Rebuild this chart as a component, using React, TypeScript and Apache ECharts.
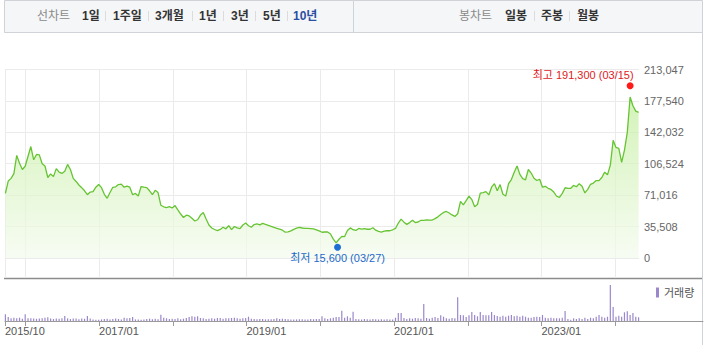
import React, { useEffect, useRef } from 'react';
import * as echarts from 'echarts';

// ---- data ----
const startDate = '2015-09-25';
const stepDays = 14;

const prices = [
  73000, 87000, 90000, 95400, 116000, 107000, 100000, 103700, 115000, 126000,
  111000, 117000, 116500, 106500, 104000, 91000, 95000, 92000, 101000, 97000,
  95600, 98000, 105800, 100000, 90000, 86500, 82500, 79500, 76000, 71500,
  74500, 75000, 80000, 83000, 79500, 72000, 67500, 74000, 79900, 80400,
  83000, 83500, 80000, 81200, 80000, 71500, 73000, 70000, 80800, 80000,
  79600, 76000, 71500, 76500, 74000, 59600, 57900, 57000, 58000, 56500,
  59300, 54300, 49700, 45800, 48400, 47600, 44900, 41800, 43200, 48500,
  51300, 44000, 37300, 33900, 32200, 30900, 32300, 34700, 33000, 36500,
  32000, 35600, 34000, 33300, 37300, 39500, 36500, 34800, 37800, 38500,
  37500, 39200, 37900, 36800, 35700, 34600, 33600, 32600, 31400, 29200,
  29500, 30600, 32400, 33700, 34600, 33900, 33500, 33500, 33300, 32800,
  31900, 30600, 29100, 29400, 29400, 27100, 21300, 17000, 21200, 24400,
  24200, 31000, 34000, 32000, 31100, 33400, 32600, 33200, 32500, 32500,
  34200, 31500, 30000, 29300, 30300, 30800, 30800, 31900, 33400, 39500,
  44000, 40500, 38000, 40000, 42700, 40100, 40700, 42600, 42500, 43200,
  42700, 42900, 44500, 46500, 49200, 51500, 52600, 50900, 48700, 47000,
  50000, 64000, 60000, 64800, 70000, 66000, 58000, 60500, 73300, 74000,
  75000, 71300, 80000, 84000, 76000, 83000, 72000, 70000, 84000, 88700,
  97000, 104000, 94500, 89700, 88400, 100000, 96000, 90200, 87600, 89000,
  80000, 81000, 78800, 77500, 74500, 69800, 68600, 73000, 79400, 78700,
  78800, 82000, 80500, 84000, 81000, 73500, 77600, 83300, 84700, 87500,
  87500, 91000, 97000, 94000, 105000, 133000, 125000, 124000, 108000, 122000,
  142000, 182000, 172000, 166000, 164500,
];

const volumes = [
  67, 40, 27, 33, 27, 33, 23, 67, 27, 27,
  25, 22, 25, 28, 32, 38, 24, 20, 26, 22,
  27, 50, 26, 20, 26, 26, 18, 24, 22, 50,
  26, 16, 13, 13, 16, 20, 23, 16, 20, 26,
  20, 16, 33, 27, 30, 40, 16, 16, 13, 16,
  20, 23, 18, 23, 18, 63, 33, 27, 20, 23,
  20, 27, 18, 23, 30, 40, 47, 43, 47, 30,
  27, 20, 23, 27, 23, 30, 30, 23, 27, 27,
  30, 33, 27, 23, 27, 30, 43, 23, 20, 18,
  20, 20, 16, 18, 18, 20, 27, 20, 23, 20,
  18, 16, 16, 16, 18, 18, 16, 16, 20, 18,
  20, 20, 47, 27, 20, 27, 33, 40, 40, 103,
  33, 47, 33, 93, 20, 17, 15, 20, 17, 15,
  20, 17, 15, 17, 15, 17, 15, 15, 33, 80,
  80, 30, 20, 27, 23, 30, 27, 23, 170, 30,
  23, 33, 40, 30, 57, 43, 27, 23, 30, 27,
  237, 60, 57, 40, 57, 90, 60, 47, 90, 60,
  57, 57, 90, 60, 50, 43, 53, 43, 53, 60,
  47, 53, 43, 53, 43, 33, 33, 40, 43, 40,
  60, 33, 27, 33, 27, 27, 27, 33, 100, 20,
  13, 27, 20, 27, 20, 33, 20, 33, 27, 43,
  60, 43, 33, 43, 360, 140, 43, 53, 43, 87,
  97, 60, 80, 43, 37,
];

const yTickValues = [0, 35508, 71016, 106524, 142032, 177540, 213047];
const yTickLabels = ['0', '35,508', '71,016', '106,524', '142,032', '177,540', '213,047'];

const axisStart = '2015-09-23';
const priceAxisEnd = '2024-04-28';
const volumeAxisEnd = '2025-03-11';
const yearLines = ['2016-01-01', '2017-01-01', '2018-01-01', '2019-01-01', '2020-01-01', '2021-01-01', '2022-01-01', '2023-01-01', '2024-01-01'];
const xLabelDates = ['2015-09-23', '2017-01-01', '2019-01-01', '2021-01-01', '2023-01-01'];
const xLabelTexts = ['2015/10', '2017/01', '2019/01', '2021/01', '2023/01'];

const highPoint = { date: '2024-03-15', value: 191300, label: '03/15' };
const lowPoint = { date: '2020-03-27', value: 15600, label: '03/27' };

const lineTabs = ['1일', '1주일', '3개월', '1년', '3년', '5년', '10년'];
const candleTabs = ['일봉', '주봉', '월봉'];

// ---- layout (not data) ----
const lineTabX = [82, 113, 155, 199, 231, 263, 293];
const lineSepX = [105, 148, 192, 223, 255, 287];
const candleTabX = [505, 541, 577];
const candleSepX = [534, 569];

const ts = (s: string) => Date.parse(s + 'T00:00:00Z');
const DAY = 86400000;
const fmt = (v: number) => v.toLocaleString('en-US');
const FONT = 'Arial, "Liberation Sans", "Noto Sans CJK KR", sans-serif';

export default function App() {
  const ref = useRef<HTMLDivElement>(null);
  useEffect(() => {
    if (!ref.current) return;
    const chart = echarts.init(ref.current, undefined, { renderer: 'svg' });
    const t0 = ts(startDate);
    const dates = prices.map((_, i) => t0 + i * stepDays * DAY);
    const yearVals = yearLines.map(ts);
    const xLabelVals = xLabelDates.map(ts);

    const graphic: any[] = [
      { type: 'rect', shape: { x: 4.5, y: 0.5, width: 349, height: 32 }, style: { fill: '#f5f6f8', stroke: '#cfd2d6', lineWidth: 1 } },
      { type: 'rect', shape: { x: 353.5, y: 0.5, width: 349, height: 32 }, style: { fill: '#f5f6f8', stroke: '#cfd2d6', lineWidth: 1 } },
      { type: 'text', x: 37, y: 16, style: { text: '선차트', fill: '#8a8a8a', font: `12px ${FONT}`, verticalAlign: 'middle' } },
      { type: 'text', x: 459, y: 16, style: { text: '봉차트', fill: '#8a8a8a', font: `12px ${FONT}`, verticalAlign: 'middle' } },
      { type: 'line', shape: { x1: 4, y1: 278.5, x2: 703, y2: 278.5 }, style: { stroke: '#8c8c8c', lineWidth: 1.5 } },
      { type: 'line', shape: { x1: 702.5, y1: 32, x2: 702.5, y2: 345 }, style: { stroke: '#cfd2d6', lineWidth: 1 } },
    ];
    lineTabs.forEach((t, i) => {
      graphic.push({ type: 'text', x: lineTabX[i], y: 16, style: { text: t, fill: i === lineTabs.length - 1 ? '#2b4ea2' : '#333', font: `bold 12px ${FONT}`, verticalAlign: 'middle' } });
    });
    lineSepX.forEach((x) => graphic.push({ type: 'line', shape: { x1: x + 0.5, y1: 11, x2: x + 0.5, y2: 21 }, style: { stroke: '#dcdcdc', lineWidth: 1 } }));
    candleTabs.forEach((t, i) => {
      graphic.push({ type: 'text', x: candleTabX[i], y: 16, style: { text: t, fill: '#333', font: `bold 12px ${FONT}`, verticalAlign: 'middle' } });
    });
    candleSepX.forEach((x) => graphic.push({ type: 'line', shape: { x1: x + 0.5, y1: 11, x2: x + 0.5, y2: 21 }, style: { stroke: '#dcdcdc', lineWidth: 1 } }));

    const priceTop = 69.5;
    const priceZeroY = 258;
    const priceBottom = 278;
    const yMin = -((priceBottom - priceZeroY) / (priceZeroY - priceTop)) * yTickValues[yTickValues.length - 1];

    chart.setOption({
      animation: false,
      textStyle: { fontFamily: FONT },
      graphic,
      legend: {
        data: ['거래량'], left: 656, top: 287, icon: 'rect', itemWidth: 3, itemHeight: 10, padding: 0, itemGap: 0,
        textStyle: { fontSize: 11, color: '#555', fontFamily: FONT },
      },
      grid: [
        { left: 5, right: 67, top: priceTop, height: priceBottom - priceTop },
        { left: 5, right: 3, top: 285, height: 36 },
      ],
      xAxis: [
        {
          type: 'value', gridIndex: 0, min: ts(axisStart), max: ts(priceAxisEnd),
          axisLine: { show: false },
          axisTick: { show: false, customValues: [ts(axisStart), ...yearVals] },
          axisLabel: { show: false },
          splitLine: { show: true, lineStyle: { color: '#ebebeb', width: 1 } },
        },
        {
          type: 'value', gridIndex: 1, min: ts(axisStart), max: ts(volumeAxisEnd),
          axisLine: { show: true, lineStyle: { color: '#9a9a9a', width: 1 } },
          axisTick: { show: true, length: 5, lineStyle: { color: '#9a9a9a' }, customValues: [ts(axisStart), ...yearVals] },
          axisLabel: {
            show: true, customValues: xLabelVals, align: 'left', margin: 4, color: '#555', fontSize: 11, fontFamily: FONT,
            formatter: (v: number) => {
              const idx = xLabelVals.findIndex((x) => Math.abs(x - v) < DAY);
              return idx >= 0 ? xLabelTexts[idx] : '';
            },
          },
          splitLine: { show: false },
        },
      ],
      yAxis: [
        {
          type: 'value', gridIndex: 0, position: 'right', min: yMin, max: yTickValues[yTickValues.length - 1],
          axisLine: { show: false },
          axisTick: { show: false, customValues: yTickValues },
          axisLabel: {
            show: true, customValues: yTickValues, margin: 5, color: '#666', fontSize: 11, fontFamily: FONT,
            formatter: (v: number) => {
              const idx = yTickValues.findIndex((x) => Math.abs(x - v) < 1);
              return idx >= 0 ? yTickLabels[idx] : '';
            },
          },
          splitLine: { show: true, lineStyle: { color: '#ebebeb', width: 1 } },
        },
        { type: 'value', gridIndex: 1, min: 0, max: Math.max(...volumes), show: false },
      ],
      series: [
        {
          type: 'line', name: '주가', xAxisIndex: 0, yAxisIndex: 0,
          data: dates.map((d, i) => [d, prices[i]]),
          showSymbol: false, symbol: 'none',
          lineStyle: { color: '#66c433', width: 1.3 },
          areaStyle: {
            color: new echarts.graphic.LinearGradient(0, priceTop, 0, priceZeroY, [
              { offset: 0, color: '#b8eb8c' },
              { offset: 1, color: '#f4fbee' },
            ], true),
          },
          markPoint: {
            silent: true,
            data: [
              {
                coord: [ts(highPoint.date), highPoint.value], symbol: 'circle', symbolSize: 7, symbolOffset: [0, -3],
                itemStyle: { color: '#ff1a1a' },
                label: { show: true, formatter: `최고 ${fmt(highPoint.value)} (${highPoint.label})`, position: [7, -7], align: 'right', verticalAlign: 'middle', color: '#e0201e', fontSize: 11, fontFamily: FONT },
              },
              {
                coord: [ts(lowPoint.date), lowPoint.value], symbol: 'circle', symbolSize: 7, symbolOffset: [0, 3],
                itemStyle: { color: '#1f6ed4' },
                label: { show: true, formatter: `최저 ${fmt(lowPoint.value)} (${lowPoint.label})`, position: 'bottom', distance: 2, color: '#2369c9', fontSize: 11, fontFamily: FONT },
              },
            ],
          },
        },
        {
          type: 'bar', name: '거래량', xAxisIndex: 1, yAxisIndex: 1,
          data: dates.map((d, i) => [d, volumes[i]]),
          barWidth: 1.2, itemStyle: { color: '#9b88cc' },
        },
      ],
    });
    return () => chart.dispose();
  }, []);
  return <div ref={ref} style={{ position: 'absolute', left: 0, top: 0, width: 706, height: 353, background: '#fff' }} />;
}
